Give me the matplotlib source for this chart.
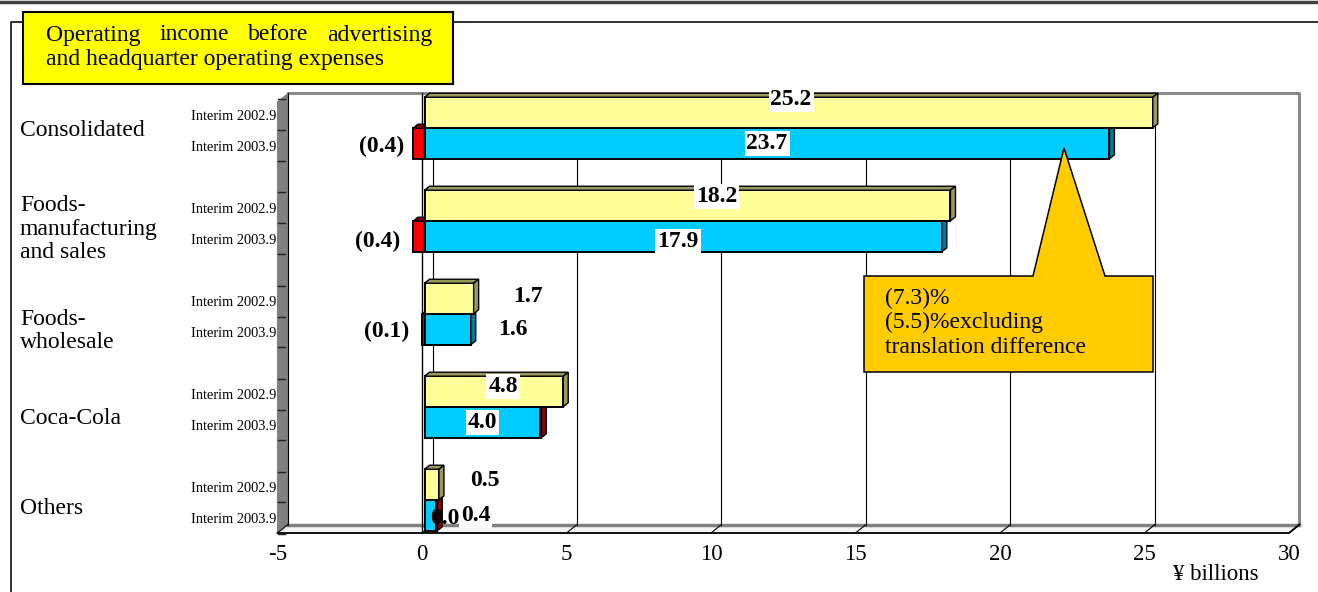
import numpy as np
import matplotlib
matplotlib.use('Agg')
import matplotlib.pyplot as plt
from matplotlib.patches import Polygon, Rectangle

plt.rcParams['font.family'] = ['Liberation Serif', 'DejaVu Serif']

# ---- data ----
categories = ['Consolidated', 'Foods-\nmanufacturing\nand sales', 'Foods-\nwholesale', 'Coca-Cola', 'Others']
periods = ['Interim 2002.9', 'Interim 2003.9']
prev_vals = [25.2, 18.2, 1.7, 4.8, 0.5]
curr_vals = [23.7, 17.9, 1.6, 4.0, 0.4]
trans_vals = [-0.4, -0.4, -0.1, 0.04, 0.04]
trans_labels = ['(0.4)', '(0.4)', '(0.1)', '', '0.0']
xticks = [-5, 0, 5, 10, 15, 20, 25, 30]
title_lines = ['Operating income before advertising', 'and headquarter operating expenses']
note_lines = ['(7.3)%', '(5.5)%excluding', 'translation difference']
unit_label = '\u00a5 billions'

# ---- layout (pixels) ----
W, H = 1318, 592
XL, XR = 277.5, 1289.0       # front plane, x=-5 .. x=30
YT, YB = 102.0, 533.0        # front plane top / floor
G0, PITCH = 128.0, 93.0      # first group centre, group pitch
PX = (XR - XL) / 35.0
BAR_H = 1 / 3 * 0.985
DX, DY = 5 / PX, -4 / PITCH            # bar depth
WDX, WDY = 10.5 / PX, -8.5 / PITCH     # wall depth
SHIFT = 2.5 / PX                        # bars sit slightly behind the front plane

YELLOW, YELLOW_D = '#FFFF99', '#99995C'
BLUE, BLUE_D = '#00CCFF', '#00789A'
RED, RED_D = '#FF0000', '#800000'

fig = plt.figure(figsize=(W / 100, H / 100), dpi=100)

bg = fig.add_axes([0, 0, 1, 1], zorder=0)
bg.set_xlim(0, W); bg.set_ylim(H, 0); bg.axis('off')
bg.plot([0, W], [1.5, 1.5], color='#404040', lw=2.5)
bg.plot([11, 11, W], [H, 21.5, 21.5], color='#202020', lw=1.3)

ax = fig.add_axes([XL / W, (H - YB) / H, (XR - XL) / W, (YB - YT) / H], zorder=2)
ax.patch.set_visible(False)
y_top = (YT - G0) / PITCH
y_bot = (YB - G0) / PITCH
ax.set_xlim(-5, 30)
ax.set_ylim(y_bot, y_top)
for s in ax.spines.values():
    s.set_visible(False)

# walls
ax.add_patch(Polygon([(-5, y_bot), (-5, y_top), (-5 + WDX, y_top + WDY), (-5 + WDX, y_bot + WDY)],
                     closed=True, fc='#808080', ec='#808080', lw=0.8, clip_on=False, zorder=1))
ax.add_patch(Polygon([(-5, y_bot), (30, y_bot), (30 + WDX, y_bot + WDY), (-5 + WDX, y_bot + WDY)],
                     closed=True, fc='#F4F4F4', ec='none', clip_on=False, zorder=1))
ax.plot([-5 + WDX, 30 + WDX, 30 + WDX], [y_top + WDY, y_top + WDY, y_bot + WDY],
        color='#8A8A8A', lw=2.2, clip_on=False, zorder=1)
ax.plot([-5 + WDX, 30 + WDX], [y_bot + WDY, y_bot + WDY], color='#808080', lw=2.5, clip_on=False, zorder=1)
ax.plot([-5, 30, 30 + WDX], [y_bot, y_bot, y_bot + WDY], color='black', lw=1.3, clip_on=False, zorder=3)
for v in xticks:
    ax.plot([v, v + WDX], [y_bot, y_bot + WDY], color='black', lw=0.8, clip_on=False, zorder=3)
    if v < 30:
        ax.plot([v + WDX, v + WDX], [y_bot + WDY, y_top + WDY], color='black', lw=0.8,
                clip_on=False, zorder=2)
for j in range(15):
    yy = -1 / 3 + j / 3 + 2.5 / PITCH
    ax.plot([-5, -5 + 7 / PX], [yy, yy], color='#202020', lw=1.0, clip_on=False, zorder=2)
ax.plot([0, 0], [y_bot, y_top + WDY], color='black', lw=1.0, clip_on=False, zorder=4)


def bar3d(y, left, width, color, dark, z):
    left = left + SHIFT
    ax.barh(y, width, left=left, height=BAR_H, color=color, edgecolor='black', linewidth=1.4,
            zorder=z, clip_on=False)
    x0, x1 = min(left, left + width), max(left, left + width)
    yt, yb = y - BAR_H / 2, y + BAR_H / 2
    top = [(x0, yt), (x0 + DX, yt + DY), (x1 + DX, yt + DY), (x1, yt)]
    side = [(x1, yt), (x1 + DX, yt + DY), (x1 + DX, yb + DY), (x1, yb)]
    for pts in (top, side):
        ax.add_patch(Polygon(pts, closed=True, fc=dark, ec='black', lw=1.0, zorder=z, clip_on=False))


n = len(categories)
y_prev = np.arange(n) - 1 / 6
y_curr = np.arange(n) + 1 / 6
for k in range(n):
    z = 10 + 3 * k
    t = trans_vals[k]
    if t < 0:
        bar3d(y_curr[k], 0, t, RED, RED_D, z)
        bar3d(y_curr[k], 0, curr_vals[k], BLUE, BLUE_D, z + 1)
    else:
        bar3d(y_curr[k], 0, curr_vals[k], BLUE, BLUE_D, z)
        bar3d(y_curr[k], curr_vals[k], t, RED, RED_D, z + 1)
    bar3d(y_prev[k], 0, prev_vals[k], YELLOW, YELLOW_D, z + 2)

# value labels
prev_lx = [12.77, 10.2, 3.67, 2.8, 2.18]
prev_dy = [-12.5, -9, -2.5, -4.8, -4.5]
curr_lx = [11.94, 8.86, 3.15, 2.1, 1.86]
curr_dy = [0, 5, 0, 0, 0]
trans_lx = [-0.62, -0.74, -0.45, 0, 0.78]
trans_dy = [3, 5, 2, 0, 2.5]
box = dict(boxstyle='square,pad=0.08', fc='white', ec='none')
lab = dict(fontsize=17, fontweight='bold', va='center')
for k in range(n):
    if trans_labels[k]:
        ha = 'right' if trans_vals[k] < 0 else 'center'
        ax.text(trans_lx[k], y_curr[k] + trans_dy[k] / PITCH, trans_labels[k], ha=ha, zorder=39, **lab)
for k in range(n):
    ax.text(prev_lx[k], y_prev[k] + prev_dy[k] / PITCH, f'{prev_vals[k]:.1f}', ha='center',
            bbox=box, zorder=40, **lab)
    ax.text(curr_lx[k], y_curr[k] + curr_dy[k] / PITCH, f'{curr_vals[k]:.1f}', ha='center',
            bbox=box, zorder=40, **lab)

# axes ticks
ax.set_xticks(xticks)
ax.set_xticklabels([str(v) for v in xticks], fontsize=16.5)
ax.tick_params(axis='x', length=0, pad=8)
ax.set_yticks(np.ravel(np.column_stack([y_prev, y_curr])) + 2.5 / PITCH)
ax.set_yticklabels(periods * n, fontsize=10.4)
ax.tick_params(axis='y', length=0, pad=1)

# foreground: titles, categories, callout
fg = fig.add_axes([0, 0, 1, 1], zorder=5)
fg.set_xlim(0, W); fg.set_ylim(H, 0); fg.axis('off')
fg.patch.set_visible(False)

cat_dy = [2, 8, 17, 11, 8]
for k, c in enumerate(categories):
    fg.text(20, G0 + PITCH * k + cat_dy[k], c, fontsize=17, ha='left', va='center', linespacing=1.17)

fg.add_patch(Rectangle((23, 12), 430, 72, fc='#FFFF00', ec='black', lw=1.5))
renderer = fig.canvas.get_renderer()
words = title_lines[0].split()
tw = [fg.text(0, 0, w, fontsize=17) for w in words]
widths = [t.get_window_extent(renderer).width for t in tw]
gap = (432.5 - 46 - sum(widths)) / (len(words) - 1)
xpos = 46
for t, w in zip(tw, widths):
    t.set_position((xpos, 35)); t.set_va('center'); t.set_ha('left')
    xpos += w + gap
fg.text(46, 59, title_lines[1], fontsize=17, ha='left', va='center')

fg.add_patch(Polygon([(864, 276), (1033, 276), (1064, 148), (1105, 276), (1153, 276), (1153, 372), (864, 372)],
                     closed=True, fc='#FFCC00', ec='black', lw=1.1))
for i, line in enumerate(note_lines):
    fg.text(885, 298.5 + 24.3 * i, line, fontsize=17, ha='left', va='center')

fg.text(1216, 575, unit_label, fontsize=16.5, ha='center', va='center')

fig.savefig('out.png', dpi=100)
